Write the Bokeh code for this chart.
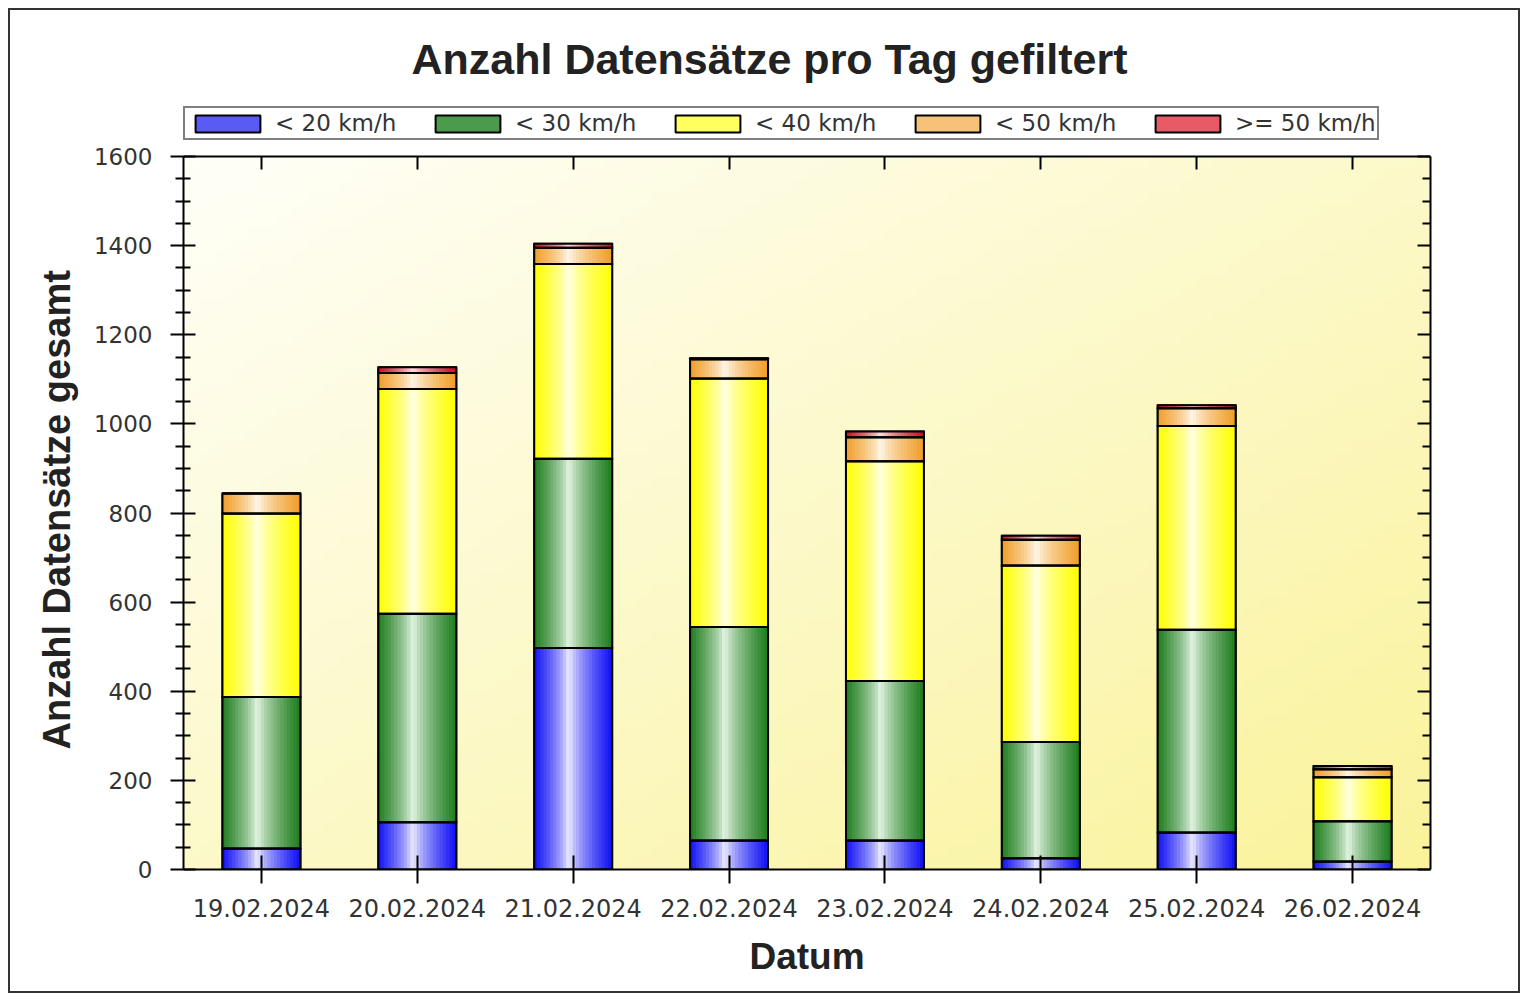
import numpy as np
from bokeh.plotting import figure
from bokeh.models import (ColumnDataSource, FixedTicker, LinearAxis, Legend,
                          LegendItem, Range1d, Title)
from bokeh.embed import file_html
from bokeh.resources import INLINE

# ---------------- data ----------------
dates = ["19.02.2024", "20.02.2024", "21.02.2024", "22.02.2024",
         "23.02.2024", "24.02.2024", "25.02.2024", "26.02.2024"]
series_labels = ["< 20 km/h", "< 30 km/h", "< 40 km/h", "< 50 km/h", ">= 50 km/h"]
v_lt20 = [47, 106, 497, 65, 65, 25, 83, 18]
v_lt30 = [340, 468, 425, 479, 358, 261, 455, 90]
v_lt40 = [412, 504, 437, 558, 493, 396, 457, 99]
v_lt50 = [45, 36, 36, 43, 54, 58, 40, 18]
v_ge50 = [0, 13, 9, 2, 13, 9, 7, 7]
y_ticks = [0, 200, 400, 600, 800, 1000, 1200, 1400, 1600]
y_minor = [v for v in range(0, 1601, 50) if v % 200]

series_values = [v_lt20, v_lt30, v_lt40, v_lt50, v_ge50]
edge_cols = [(16, 16, 245), (30, 125, 30), (255, 255, 0), (240, 158, 40), (200, 15, 35)]
center_cols = [(245, 245, 255), (236, 250, 236), (255, 255, 240), (255, 250, 242), (255, 235, 235)]
mid_cols = ["#5a5af5", "#4c9a4c", "#ffff60", "#f5c27a", "#e85a66"]

# ---------------- layout constants ----------------
FIG_W, FIG_H = 1528, 1001
B_LEFT, B_RIGHT, B_TOP, B_BOTTOM = 183, 98, 100, 132
FRAME_H = FIG_H - B_TOP - B_BOTTOM
AREA_TOP_GAP = 56          # px between frame top and the 1600 line
X0, X1 = -0.5, 7.5
Y0, YMAX = 0, 1600
Y1 = YMAX * FRAME_H / (FRAME_H - AREA_TOP_GAP)
BAR_W = 0.5

p = figure(width=FIG_W, height=FIG_H, output_backend="svg", toolbar_location=None,
           x_range=Range1d(X0, X1), y_range=Range1d(Y0, Y1),
           min_border_left=B_LEFT, min_border_right=B_RIGHT,
           min_border_top=B_TOP, min_border_bottom=B_BOTTOM,
           background_fill_color="white", border_fill_color="white",
           border_fill_alpha=0)
# thin outer frame of the picture, drawn behind the transparent canvas border
p.styles = {"box-shadow": "inset 0 0 0 8px #ffffff, inset 0 0 0 10px #333333",
            "background-color": "#ffffff"}
p.grid.visible = False
p.outline_line_color = None

# title
p.title.text = "Anzahl Datensätze pro Tag gefiltert"
p.title.align = "left"
p.title.offset = 228
p.title.text_font = "Liberation Sans"
p.title.text_font_style = "bold"
p.title.text_font_size = "43px"
p.title.text_color = "#222222"
p.title.standoff = 35

# background gradient of the plot area
H, W = 60, 80
u = np.linspace(0, 1, W)[None, :]
v = np.linspace(0, 1, H)[:, None]
d = (u + (1 - v)) / 2
TL = np.array([255, 255, 248.0])
BR = np.array([250, 243, 155.0])
rgb = TL + (BR - TL) * d[..., None]
img = np.empty((H, W), dtype=np.uint32)
view = img.view(dtype=np.uint8).reshape((H, W, 4))
view[..., 0] = rgb[..., 0]
view[..., 1] = rgb[..., 1]
view[..., 2] = rgb[..., 2]
view[..., 3] = 255
p.image_rgba(image=[img], x=X0, y=Y0, dw=X1 - X0, dh=YMAX - Y0, level="image")

# bars
xs = np.arange(len(dates), dtype=float)
N = 24
c = 0.45
bottoms = np.zeros(len(dates))
legend_items = []
outline_srcs = []
for vals, edge, center, mid, label in zip(series_values, edge_cols, center_cols,
                                          mid_cols, series_labels):
    tops = bottoms + np.array(vals, dtype=float)
    src = ColumnDataSource(dict(x=xs, top=tops, bottom=bottoms.copy()))
    r = p.vbar(x="x", top="top", bottom="bottom", width=BAR_W, source=src,
               fill_color=mid, line_color="black", line_width=2)
    legend_items.append(LegendItem(label=label, renderers=[r]))
    L, R, B, T, C = [], [], [], [], []
    e = np.array(edge, float)
    ce = np.array(center, float)
    for k in range(N):
        u0, u1 = k / N, (k + 1) / N
        uc = (u0 + u1) / 2
        t = (c - uc) / c if uc < c else (uc - c) / (1 - c)
        col = ce + (e - ce) * (t ** 0.7)
        hx = "#%02x%02x%02x" % tuple(int(round(z)) for z in col)
        for i in range(len(xs)):
            L.append(xs[i] - BAR_W / 2 + u0 * BAR_W)
            R.append(xs[i] - BAR_W / 2 + u1 * BAR_W)
            B.append(bottoms[i])
            T.append(tops[i])
            C.append(hx)
    p.quad(left=L, right=R, bottom=B, top=T, fill_color=C, line_color=C,
           line_width=1)
    outline_srcs.append(src)
    bottoms = tops

for src in outline_srcs:
    p.vbar(x="x", top="top", bottom="bottom", width=BAR_W, source=src,
           fill_color=None, line_color="black", line_width=2,
           line_join="miter")

# axes
xa = p.xaxis[0]
xa.ticker = FixedTicker(ticks=list(xs))
xa.major_label_overrides = {i: d_ for i, d_ in enumerate(dates)}
xa.major_tick_in = 14
xa.major_tick_out = 14
xa.minor_tick_line_color = None
xa.major_tick_line_width = 2
xa.axis_line_width = 2
xa.axis_line_color = "black"
xa.major_label_text_font = "DejaVu Sans"
xa.major_label_text_font_size = "24px"
xa.major_label_text_color = "#333333"
xa.major_label_standoff = 15
xa.axis_label = "Datum"
xa.axis_label_text_font = "Liberation Sans"
xa.axis_label_text_font_style = "bold"
xa.axis_label_text_font_size = "37px"
xa.axis_label_text_color = "#222222"
xa.axis_label_standoff = 16

ya = p.yaxis[0]
ya.ticker = FixedTicker(ticks=y_ticks, minor_ticks=y_minor)
ya.bounds = (Y0, YMAX)
ya.major_tick_in = 12
ya.major_tick_out = 13
ya.minor_tick_in = 7
ya.minor_tick_out = 8
ya.major_tick_line_width = 2
ya.minor_tick_line_width = 2
ya.axis_line_width = 2
ya.axis_line_color = "black"
ya.major_label_text_font = "DejaVu Sans"
ya.major_label_text_font_size = "23px"
ya.major_label_text_color = "#333333"
ya.major_label_standoff = 18

# y axis title, centred on the plot area (0..1600) rather than the frame
ytitle = Title(text="Anzahl Datensätze gesamt", align="left", offset=120,
               text_font="Liberation Sans", text_font_style="bold",
               text_font_size="38px", text_color="#222222", standoff=26)
p.add_layout(ytitle, "left")

ra = LinearAxis(ticker=FixedTicker(ticks=y_ticks, minor_ticks=y_minor),
                bounds=(Y0, YMAX),
                major_tick_in=13, major_tick_out=0, minor_tick_in=8,
                minor_tick_out=0, major_tick_line_width=2,
                minor_tick_line_width=2, axis_line_width=2,
                major_label_overrides={t: "" for t in y_ticks})
p.add_layout(ra, "right")

ta = LinearAxis(ticker=FixedTicker(ticks=list(xs)), fixed_location=YMAX,
                major_tick_in=13, major_tick_out=0,
                minor_tick_line_color=None,
                major_tick_line_width=2, axis_line_width=2,
                major_label_overrides={i: "" for i in range(len(dates))})
p.add_layout(ta, "above")

# legend (inside the frame, above the plot area)
legend = Legend(items=legend_items, orientation="horizontal",
                location=(0, FRAME_H - AREA_TOP_GAP + 16), glyph_width=81,
                glyph_height=21, label_standoff=7, label_width=130,
                spacing=22, padding=2, margin=0,
                label_text_font="DejaVu Sans", label_text_font_size="23px",
                label_text_color="#333333", border_line_color="black",
                border_line_width=2, background_fill_color="white",
                background_fill_alpha=1)
p.add_layout(legend, "center")

open("out.html", "w").write(file_html(p, INLINE))
